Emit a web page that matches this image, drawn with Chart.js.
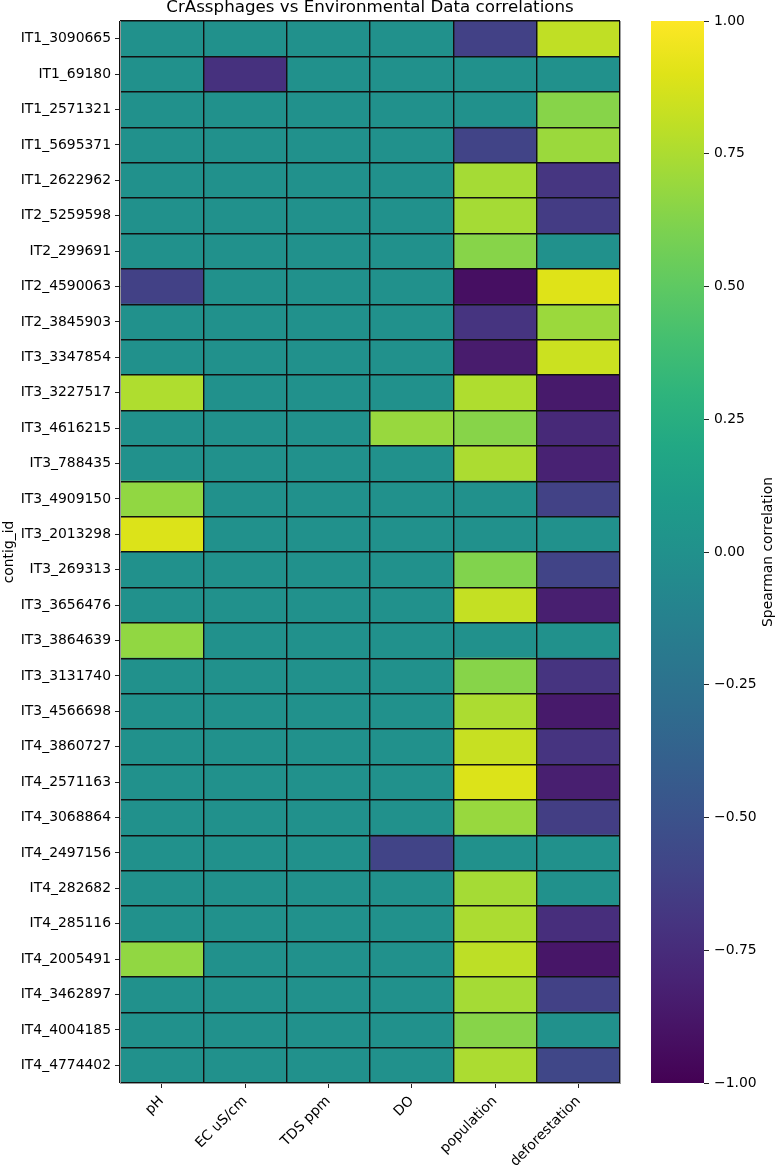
<!DOCTYPE html>
<html>
<head>
<meta charset="utf-8">
<title>CrAssphages vs Environmental Data correlations</title>
<script src="https://cdn.jsdelivr.net/npm/chart.js@4.4.1/dist/chart.umd.min.js"></script>
<style>
  html, body { margin: 0; padding: 0; background: #fff; }
  #wrap { position: relative; width: 776px; height: 1166px; overflow: hidden; }
  canvas { position: absolute; top: 0; }
  #heat { left: 0; }
  #cbar { left: 640px; }
</style>
</head>
<body>
<div id="wrap">
  <canvas id="heat" width="640" height="1166" style="width:640px;height:1166px"></canvas>
  <canvas id="cbar" width="136" height="1166" style="width:136px;height:1166px"></canvas>
</div>
<script>
// rows (contigs) and columns (environmental variables)
const rowLabels = [
  'IT1_3090665', 'IT1_69180', 'IT1_2571321', 'IT1_5695371', 'IT1_2622962',
  'IT2_5259598', 'IT2_299691', 'IT2_4590063', 'IT2_3845903', 'IT3_3347854',
  'IT3_3227517', 'IT3_4616215', 'IT3_788435', 'IT3_4909150', 'IT3_2013298',
  'IT3_269313', 'IT3_3656476', 'IT3_3864639', 'IT3_3131740', 'IT3_4566698',
  'IT4_3860727', 'IT4_2571163', 'IT4_3068864', 'IT4_2497156', 'IT4_282682',
  'IT4_285116', 'IT4_2005491', 'IT4_3462897', 'IT4_4004185', 'IT4_4774402'
];
const colLabels = ['pH', 'EC uS/cm', 'TDS ppm', 'DO', 'population', 'deforestation'];

// Spearman correlation per column, one value per row (top to bottom)
const phVals  = [0, 0, 0, 0, 0, 0, 0, -0.62, 0, 0, 0.76, 0, 0, 0.67, 0.89, 0, 0, 0.67, 0, 0, 0, 0, 0, 0, 0, 0, 0.67, 0, 0, 0];
const ecVals  = [0, -0.72, 0, 0, 0, 0, 0, 0, 0, 0, 0, 0, 0, 0, 0, 0, 0, 0, 0, 0, 0, 0, 0, 0, 0, 0, 0, 0, 0, 0];
const tdsVals = [0, 0, 0, 0, 0, 0, 0, 0, 0, 0, 0, 0, 0, 0, 0, 0, 0, 0, 0, 0, 0, 0, 0, 0, 0, 0, 0, 0, 0, 0];
const doVals  = [0, 0, 0, 0, 0, 0, 0, 0, 0, 0, 0, 0.69, 0, 0, 0, 0, 0, 0, 0, 0, 0, 0, 0, -0.6, 0, 0, 0, 0, 0, 0];
const popVals = [-0.62, 0, 0, -0.6, 0.73, 0.73, 0.64, -0.92, -0.7, -0.85, 0.76, 0.64, 0.75, 0, 0, 0.62, 0.82, 0, 0.64, 0.75, 0.83, 0.89, 0.69, 0, 0.73, 0.75, 0.8, 0.73, 0.64, 0.75];
const defVals = [0.81, 0, 0.64, 0.7, -0.69, -0.65, 0, 0.9, 0.7, 0.84, -0.86, -0.77, -0.81, -0.61, 0, -0.6, -0.83, 0, -0.7, -0.86, -0.7, -0.83, -0.64, 0, 0, -0.74, -0.88, -0.62, 0, -0.58];

const cbTicks = [-1, -0.75, -0.5, -0.25, 0, 0.25, 0.5, 0.75, 1];

const columns = [phVals, ecVals, tdsVals, doVals, popVals, defVals];

// viridis colormap
const viridis = [
  '#440154', '#471365', '#482475', '#463480', '#414487', '#3b528b', '#355f8d',
  '#2f6c8e', '#2a788e', '#25848e', '#21918c', '#1e9c89', '#22a884', '#2fb47c',
  '#44bf70', '#5ec962', '#7ad151', '#9bd93c', '#bddf26', '#dfe318', '#fde725'
];

function hex2rgb(h) {
  return [parseInt(h.slice(1, 3), 16), parseInt(h.slice(3, 5), 16), parseInt(h.slice(5, 7), 16)];
}

function colorFor(v) {
  let t = (v + 1) / 2;
  t = Math.min(1, Math.max(0, t)) * (viridis.length - 1);
  const i = Math.min(Math.floor(t), viridis.length - 2);
  const f = t - i;
  const a = hex2rgb(viridis[i]), b = hex2rgb(viridis[i + 1]);
  const c = a.map((x, k) => Math.round(x + (b[k] - x) * f));
  return 'rgb(' + c.join(',') + ')';
}

Chart.defaults.font.family = '"DejaVu Sans", sans-serif';
Chart.defaults.font.size = 13.9;
Chart.defaults.color = '#000';

// title centred above the heatmap, like matplotlib
const titlePlugin = {
  id: 'heatTitle',
  afterDraw(chart) {
    const c = chart.ctx, a = chart.chartArea;
    c.save();
    c.font = '16.7px "DejaVu Sans", sans-serif';
    c.fillStyle = '#000';
    c.textAlign = 'center';
    c.textBaseline = 'middle';
    c.fillText('CrAssphages vs Environmental Data correlations', (a.left + a.right) / 2, 8);
    c.restore();
  }
};

const heatDatasets = columns.map((vals, ci) => ({
  label: colLabels[ci],
  data: vals.map(() => [ci, ci + 1]),
  backgroundColor: vals.map(colorFor),
  borderWidth: 0,
  inflateAmount: 0.5,
  categoryPercentage: 1,
  barPercentage: 1,
  grouped: false
}));

// cell separators are drawn above the bars
const cellLine = { color: '#111', lineWidth: 1.4, z: 1 };

new Chart(document.getElementById('heat'), {
  type: 'bar',
  data: { labels: rowLabels, datasets: heatDatasets },
  plugins: [titlePlugin],
  options: {
    indexAxis: 'y',
    responsive: false,
    animation: false,
    layout: { padding: { top: 21, right: 20, left: 0, bottom: 0 } },
    plugins: { legend: { display: false }, tooltip: { enabled: false } },
    scales: {
      x: {
        type: 'linear',
        min: 0,
        max: colLabels.length,
        afterBuildTicks: s => { s.ticks = colLabels.map((_, i) => ({ value: i + 0.5 })); },
        afterFit: s => { s.height = 83; },
        ticks: {
          autoSkip: false,
          maxRotation: 45,
          minRotation: 45,
          padding: 5,
          callback: (v, i) => colLabels[i]
        },
        grid: { drawOnChartArea: false, tickLength: 5, tickColor: '#222' },
        border: { display: true, color: '#999', width: 1, z: 2 }
      },
      // column separators
      xCells: {
        type: 'linear',
        position: 'top',
        min: 0,
        max: colLabels.length,
        afterBuildTicks: s => { s.ticks = colLabels.concat(['']).map((_, i) => ({ value: i })); },
        afterFit: s => { s.height = 0; },
        ticks: { display: false },
        grid: Object.assign({ drawOnChartArea: true, drawTicks: false }, cellLine),
        border: { display: false }
      },
      y: {
        type: 'category',
        afterFit: s => { s.width = 120; },
        ticks: { autoSkip: false, padding: 4 },
        grid: { drawOnChartArea: false, tickLength: 5, tickColor: '#222', offset: false },
        border: { display: true, color: '#999', width: 1, z: 2 },
        title: { display: true, text: 'contig_id', padding: { top: 1, bottom: 0 } }
      },
      // row separators
      yCells: {
        type: 'category',
        labels: rowLabels,
        position: 'right',
        offset: true,
        afterFit: s => { s.width = 0; },
        ticks: { display: false },
        grid: Object.assign({ drawOnChartArea: true, drawTicks: false, offset: true }, cellLine),
        border: { display: false }
      }
    }
  }
});

// colorbar
const cbTitlePlugin = {
  id: 'cbTitle',
  afterDraw(chart) {
    const c = chart.ctx, a = chart.chartArea;
    c.save();
    c.translate(128, (a.top + a.bottom) / 2);
    c.rotate(-Math.PI / 2);
    c.font = '13.9px "DejaVu Sans", sans-serif';
    c.fillStyle = '#000';
    c.textAlign = 'center';
    c.textBaseline = 'middle';
    c.fillText('Spearman correlation', 0, 0);
    c.restore();
  }
};

function cbGradient(context) {
  const ch = context.chart, a = ch.chartArea;
  if (!a) return null;
  const g = ch.ctx.createLinearGradient(0, a.bottom, 0, a.top);
  viridis.forEach((col, i) => g.addColorStop(i / (viridis.length - 1), col));
  return g;
}

new Chart(document.getElementById('cbar'), {
  type: 'bar',
  data: {
    labels: [''],
    datasets: [{
      data: [[cbTicks[0], cbTicks[cbTicks.length - 1]]],
      backgroundColor: cbGradient,
      borderWidth: 0,
      inflateAmount: 0,
      categoryPercentage: 1,
      barPercentage: 1
    }]
  },
  plugins: [cbTitlePlugin],
  options: {
    responsive: false,
    animation: false,
    layout: { padding: { top: 21, left: 11, right: 0, bottom: 83 } },
    plugins: { legend: { display: false }, tooltip: { enabled: false } },
    scales: {
      x: { display: false },
      y: {
        position: 'right',
        min: -1,
        max: 1,
        afterBuildTicks: s => { s.ticks = cbTicks.map(v => ({ value: v })); },
        afterFit: s => { s.width = 72; },
        ticks: {
          padding: 5,
          callback: v => (v < 0 ? '\u2212' : '') + Math.abs(v).toFixed(2)
        },
        grid: { drawOnChartArea: false, tickLength: 5, tickColor: '#222' },
        border: { display: false }
      }
    }
  }
});
</script>
</body>
</html>
